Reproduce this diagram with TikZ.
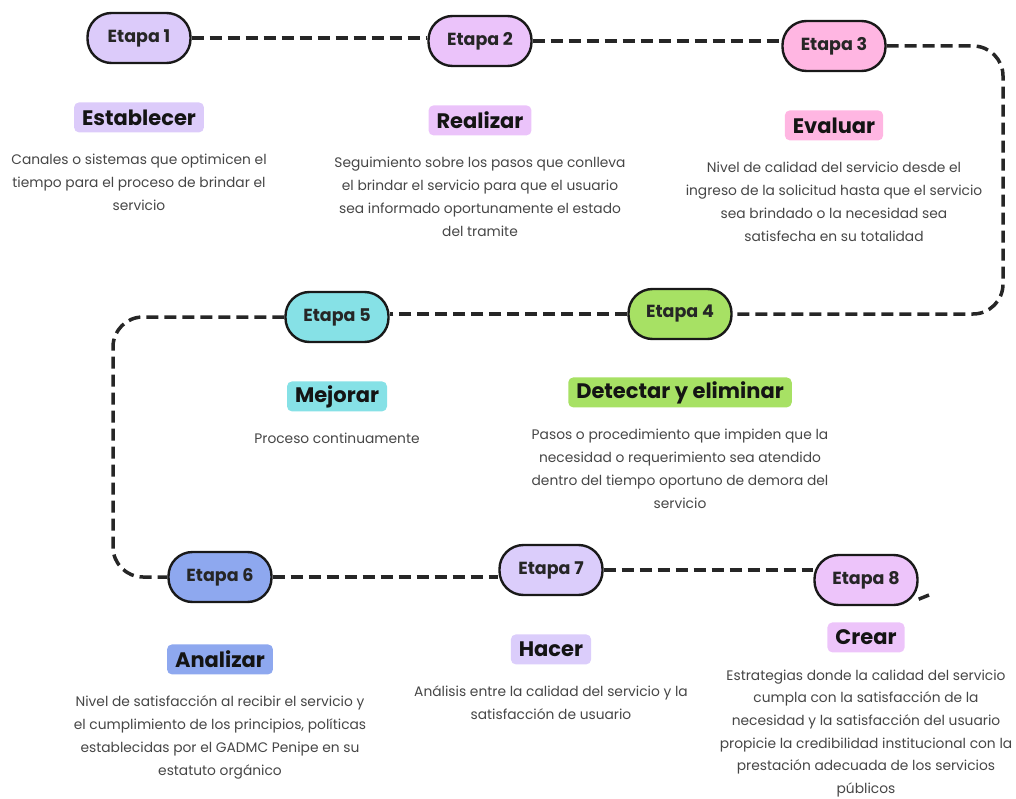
\documentclass[tikz,border=0pt]{standalone}
\usepackage{fontspec}
\setmainfont{Poppins}
\usetikzlibrary{positioning, backgrounds}
\definecolor{lilaA}{HTML}{DCCBFA}
\definecolor{lilaB}{HTML}{EBC3FA}
\definecolor{rosa}{HTML}{FFB6E2}
\definecolor{verde}{HTML}{A7E164}
\definecolor{cian}{HTML}{86E1E6}
\definecolor{azul}{HTML}{8EA8EF}
\definecolor{lilaC}{HTML}{DBCDFB}
\definecolor{lilaD}{HTML}{EDC4FA}
\definecolor{gristexto}{RGB}{70,70,70}

\begin{document}
\begin{tikzpicture}[
      x=1pt, y=-1pt,
      pill/.style   = {draw=black!90, line width=2.4pt, rounded corners=24pt,
                       minimum width=103pt, minimum height=50pt,
                       font=\fontsize{17.5}{19}\selectfont\bfseries, text=black!85},
      tag/.style    = {rounded corners=5pt, minimum height=30pt, inner xsep=8pt,
                       font=\fontsize{21}{24}\selectfont\bfseries, text=black!92},
      desc/.style   = {align=center, inner sep=0pt,
                       font=\fontsize{13.8}{23}\selectfont, text=gristexto},
      trail/.style  = {line width=3.5pt, dash pattern=on 12pt off 6pt, color=black!85}
    ]
    \useasboundingbox (0,0) rectangle (1016,799);

    % Etapas
    \node[pill, fill=lilaA] (etapa1) at (139,38)  {Etapa 1};
    \node[pill, fill=lilaB] (etapa2) at (480,41)  {Etapa 2};
    \node[pill, fill=rosa]  (etapa3) at (834,46)  {Etapa 3};
    \node[pill, fill=verde] (etapa4) at (680,314) {Etapa 4};
    \node[pill, fill=cian]  (etapa5) at (337,317) {Etapa 5};
    \node[pill, fill=azul]  (etapa6) at (220,577) {Etapa 6};
    \node[pill, fill=lilaC] (etapa7) at (551,570) {Etapa 7};
    \node[pill, fill=lilaD] (etapa8) at (866,580) {Etapa 8};

    % Titulos
    \node[tag, fill=lilaA, below=38pt of etapa1] (tag1) {Establecer};
    \node[tag, fill=lilaB, below=38pt of etapa2] (tag2) {Realizar};
    \node[tag, fill=rosa,  below=38pt of etapa3] (tag3) {Evaluar};
    \node[tag, fill=verde, below=37pt of etapa4] (tag4) {Detectar y eliminar};
    \node[tag, fill=cian,  below=38pt of etapa5] (tag5) {Mejorar};
    \node[tag, fill=azul,  below=41pt of etapa6] (tag6) {Analizar};
    \node[tag, fill=lilaC, below=38pt of etapa7] (tag7) {Hacer};
    \node[tag, fill=lilaD, below=16pt of etapa8] (tag8) {Crear};

    % Descripciones
    \node[desc, below=21pt of tag1] (desc1) {Canales o sistemas que optimicen el\\tiempo para el proceso de brindar el\\servicio};
    \node[desc, below=21pt of tag2] (desc2) {Seguimiento sobre los pasos que conlleva\\el brindar el servicio para que el usuario\\sea informado oportunamente el estado\\del tramite};
    \node[desc, below=21pt of tag3] (desc3) {Nivel de calidad del servicio desde el\\ingreso de la solicitud hasta que el servicio\\sea brindado o la necesidad sea\\satisfecha en su totalidad};
    \node[desc, below=21pt of tag4] (desc4) {Pasos o procedimiento que impiden que la\\necesidad o requerimiento sea atendido\\dentro del tiempo oportuno de demora del\\servicio};
    \node[desc, below=21pt of tag5] (desc5) {Proceso continuamente};
    \node[desc, below=21pt of tag6] (desc6) {Nivel de satisfacción al recibir el servicio y\\el cumplimiento de los principios, políticas\\establecidas por el GADMC Penipe en su\\estatuto orgánico};
    \node[desc, below=21pt of tag7] (desc7) {Análisis entre la calidad del servicio y la\\satisfacción de usuario};
    \node[desc, below=17pt of tag8, font=\fontsize{13.8}{22.6}\selectfont] (desc8) {Estrategias donde la calidad del servicio\\cumpla con la satisfacción de la\\necesidad y la satisfacción del usuario\\propicie la credibilidad institucional con la\\prestación adecuada de los servicios\\públicos};

    % Recorrido
    \coordinate (giroA) at (1003,180);
    \coordinate (giroB) at (113,450);
    \coordinate (cola)  at (929,595);
    \begin{scope}[on background layer]
      \draw[trail] (etapa1.east) -- (etapa1.east -| etapa2.west);
      \draw[trail] (etapa2.east) -- (etapa2.east -| etapa3.west);
      \draw[trail, rounded corners=30pt] (etapa3.east) -| (giroA) |- (etapa4.east);
      \draw[trail] (etapa4.west) -- (etapa4.west -| etapa5.east);
      \draw[trail, rounded corners=30pt] (etapa5.west) -| (giroB) |- (etapa6.west);
      \draw[trail] (etapa6.east) -- (etapa6.east -| etapa7.west);
      \draw[trail] (etapa7.east) -- (etapa7.east -| etapa8.west);
      \draw[trail, solid] (etapa8.-20) -- (cola);
    \end{scope}

  \end{tikzpicture}
\end{document}
